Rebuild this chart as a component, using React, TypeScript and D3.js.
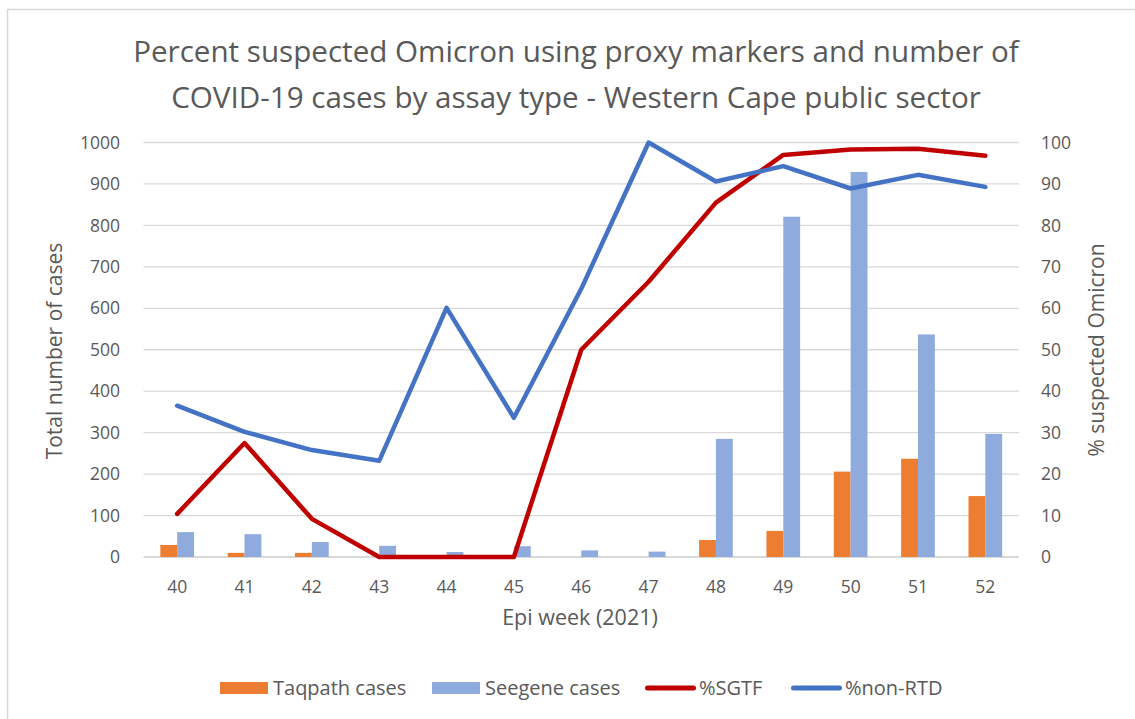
//@ts-nocheck
import * as d3 from "d3";
import { useEffect, useRef } from "react";

const weeks = ["40", "41", "42", "43", "44", "45", "46", "47", "48", "49", "50", "51", "52"];
const taqpathCases = [29, 10, 10, 0, 0, 0, 0, 0, 41, 63, 206, 237, 147];
const seegeneCases = [60, 55, 36, 27, 12, 26, 16, 13, 285, 821, 929, 537, 297];
const pctSGTF = [10.4, 27.5, 9.2, 0, 0, 0, 50, 66.4, 85.5, 97, 98.3, 98.5, 96.8];
const pctNonRTD = [36.5, 30.2, 25.8, 23.2, 60.1, 33.6, 64.7, 100, 90.6, 94.3, 88.9, 92.2, 89.3];
const leftTicks = [0, 100, 200, 300, 400, 500, 600, 700, 800, 900, 1000];
const rightTicks = [0, 10, 20, 30, 40, 50, 60, 70, 80, 90, 100];

const W = 1135, H = 719;
const FONT = "'Open Sans', sans-serif";
const GREY = "#595959";

const App = () => {
  const ref = useRef(null);

  useEffect(() => {
    const svg = d3.select(ref.current);
    svg.selectAll("*").remove();

    const left = 143.5, right = 1019, top = 142.5, bottom = 557;

    const x = d3.scaleBand().domain(weeks).range([left, right]).padding(0);
    // gap width 200% -> two bars take half the category
    const xs = d3.scaleBand().domain(["t", "s"]).range([0, x.bandwidth()]).paddingInner(0).paddingOuter(1);
    const yL = d3.scaleLinear().domain([0, 1000]).range([bottom, top]);
    const yR = d3.scaleLinear().domain([0, 100]).range([bottom, top]);

    // chart border
    svg.append("rect")
      .attr("x", 7.5).attr("y", 9.5)
      .attr("width", W).attr("height", H)
      .attr("fill", "white").attr("stroke", "#d9d9d9").attr("stroke-width", 1.5);

    // title
    const title = svg.append("text")
      .attr("text-anchor", "middle")
      .attr("font-family", FONT).attr("font-size", 29.6).attr("fill", GREY);
    title.append("tspan").attr("x", 576).attr("y", 62)
      .text("Percent suspected Omicron using proxy markers and number of");
    title.append("tspan").attr("x", 576).attr("y", 108)
      .text("COVID-19 cases by assay type - Western Cape public sector");

    // gridlines
    svg.append("g").selectAll("line").data(leftTicks).enter().append("line")
      .attr("x1", left).attr("x2", right)
      .attr("y1", d => yL(d)).attr("y2", d => yL(d))
      .attr("stroke", "#d9d9d9").attr("stroke-width", d => d === 0 ? 2 : 1.3);

    // left axis labels
    svg.append("g").selectAll("text").data(leftTicks).enter().append("text")
      .attr("x", 120).attr("y", d => yL(d)).attr("dy", "0.35em")
      .attr("text-anchor", "end")
      .attr("font-family", FONT).attr("font-size", 17.5).attr("fill", GREY)
      .text(d => d);

    // right axis labels
    svg.append("g").selectAll("text").data(rightTicks).enter().append("text")
      .attr("x", 1041).attr("y", d => yR(d)).attr("dy", "0.35em")
      .attr("text-anchor", "start")
      .attr("font-family", FONT).attr("font-size", 17.5).attr("fill", GREY)
      .text(d => d);

    // x axis labels
    svg.append("g").selectAll("text").data(weeks).enter().append("text")
      .attr("x", d => x(d) + x.bandwidth() / 2).attr("y", 593)
      .attr("text-anchor", "middle")
      .attr("font-family", FONT).attr("font-size", 17.5).attr("fill", GREY)
      .text(d => d);

    // axis titles
    svg.append("text")
      .attr("transform", "translate(62,351) rotate(-90)")
      .attr("text-anchor", "middle")
      .attr("font-family", FONT).attr("font-size", 21).attr("fill", GREY)
      .text("Total number of cases");
    svg.append("text")
      .attr("transform", "translate(1104,350) rotate(-90)")
      .attr("text-anchor", "middle")
      .attr("font-family", FONT).attr("font-size", 21).attr("fill", GREY)
      .text("% suspected Omicron");
    svg.append("text")
      .attr("x", 580).attr("y", 625)
      .attr("text-anchor", "middle")
      .attr("font-family", FONT).attr("font-size", 21.5).attr("fill", GREY)
      .text("Epi week (2021)");

    // bars
    const bars = svg.append("g");
    bars.selectAll("rect.t").data(weeks).enter().append("rect")
      .attr("x", d => x(d) + xs("t"))
      .attr("width", xs.bandwidth())
      .attr("y", (d, i) => yL(taqpathCases[i]))
      .attr("height", (d, i) => bottom - yL(taqpathCases[i]))
      .attr("fill", "#ED7D31");
    bars.selectAll("rect.s").data(weeks).enter().append("rect")
      .attr("x", d => x(d) + xs("s"))
      .attr("width", xs.bandwidth())
      .attr("y", (d, i) => yL(seegeneCases[i]))
      .attr("height", (d, i) => bottom - yL(seegeneCases[i]))
      .attr("fill", "#8FAADC");

    // lines
    const line = d3.line()
      .x((d, i) => x(weeks[i]) + x.bandwidth() / 2)
      .y(d => yR(d));
    svg.append("path").datum(pctSGTF)
      .attr("d", line).attr("fill", "none")
      .attr("stroke", "#C00000").attr("stroke-width", 4.5)
      .attr("stroke-linejoin", "round").attr("stroke-linecap", "round");
    svg.append("path").datum(pctNonRTD)
      .attr("d", line).attr("fill", "none")
      .attr("stroke", "#4472C4").attr("stroke-width", 4.5)
      .attr("stroke-linejoin", "round").attr("stroke-linecap", "round");

    // legend
    const legend = [
      { name: "Taqpath cases", type: "box", color: "#ED7D31", x: 220 },
      { name: "Seegene cases", type: "box", color: "#8FAADC", x: 432 },
      { name: "%SGTF", type: "line", color: "#C00000", x: 645 },
      { name: "%non-RTD", type: "line", color: "#4472C4", x: 791 }
    ];
    const lg = svg.append("g").selectAll("g").data(legend).enter().append("g")
      .attr("transform", d => "translate(" + d.x + ",688)");
    lg.filter(d => d.type === "box").append("rect")
      .attr("x", 0).attr("y", -6).attr("width", 48).attr("height", 12)
      .attr("fill", d => d.color);
    lg.filter(d => d.type === "line").append("line")
      .attr("x1", 2.5).attr("x2", 48.5).attr("y1", 0).attr("y2", 0)
      .attr("stroke", d => d.color).attr("stroke-width", 5).attr("stroke-linecap", "round");
    lg.append("text")
      .attr("x", d => d.type === "box" ? 53 : 54).attr("y", 0).attr("dy", "0.35em")
      .attr("font-family", FONT).attr("font-size", 20).attr("fill", GREY)
      .text(d => d.name);
  }, []);

  return <svg ref={ref} width={W} height={H} style={{ position: "absolute", left: 0, top: 0 }}></svg>;
};

export default App;
